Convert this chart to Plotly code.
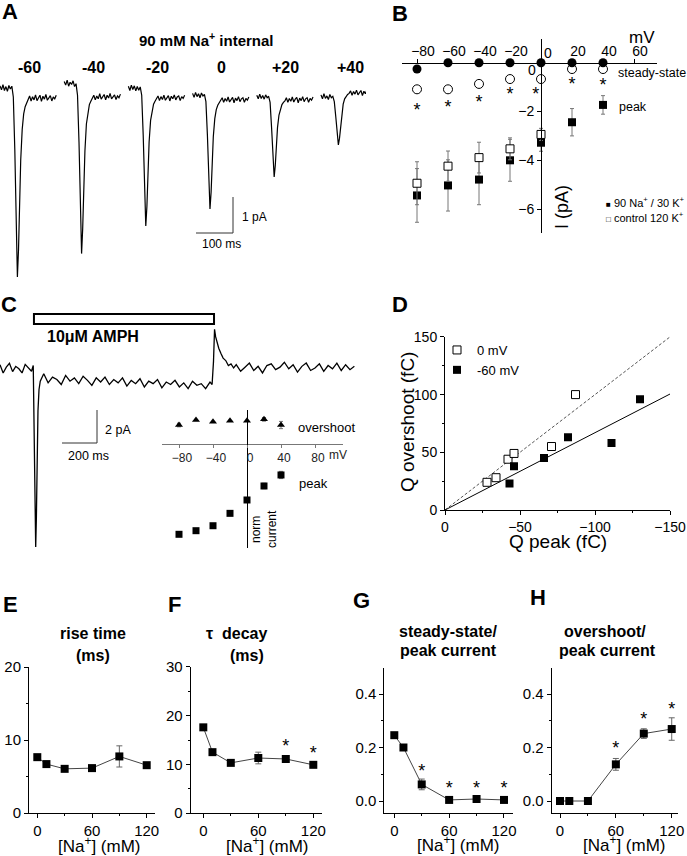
import plotly.graph_objects as go

W, H = 687, 856
FONT = "Liberation Sans, Arial, Helvetica, sans-serif"

# ======================= DATA =======================
# --- A: example currents (pA) vs time (ms), 90 mM Na+ internal ---
A_VOLTS = ["-60", "-40", "-20", "0", "+20", "+40"]
A_T = [0, 4, 8, 12, 16, 20, 24, 28, 32, 36, 40, 44, 47, 50, 53, 56, 60, 64, 68, 72,
       76, 80, 84, 88, 92, 96, 100, 104, 108, 112, 116, 120, 124, 128, 132, 136, 140, 144, 148, 152]
A_I_M60 = [0.06, -0.05, 0.09, -0.07, 0.04, -0.09, 0.07, -0.03, 0.05, -0.25,
           -1.7, -4.1, -5.25, -4.5, -3.1, -2.0, -1.15, -0.72, -0.52, -0.41,
           -0.34, -0.22, -0.36, -0.24, -0.33, -0.19, -0.35, -0.27, -0.2, -0.37,
           -0.23, -0.31, -0.18, -0.34, -0.26, -0.21, -0.36, -0.25, -0.3, -0.2]
A_I_M40 = [0.18, 0.08, 0.22, 0.05, 0.16, 0.1, 0.2, 0.04, 0.12, -0.2,
           -1.5, -3.6, -4.6, -3.9, -2.7, -1.75, -1.0, -0.64, -0.46, -0.37,
           -0.3, -0.2, -0.33, -0.22, -0.3, -0.16, -0.31, -0.24, -0.18, -0.33,
           -0.2, -0.28, -0.15, -0.3, -0.23, -0.19, -0.32, -0.22, -0.27, -0.17]
A_I_M20 = [0.05, -0.07, 0.08, -0.04, 0.06, -0.08, 0.04, -0.06, 0.03, -0.2,
           -1.3, -3.0, -3.83, -3.3, -2.3, -1.5, -0.9, -0.6, -0.45, -0.37,
           -0.31, -0.22, -0.35, -0.24, -0.32, -0.2, -0.34, -0.26, -0.21, -0.36,
           -0.23, -0.3, -0.19, -0.33, -0.25, -0.22, -0.35, -0.24, -0.29, -0.2]
A_I_0 = [-0.15, -0.26, -0.12, -0.24, -0.16, -0.27, -0.14, -0.22, -0.18, -0.38,
         -1.3, -2.7, -3.36, -2.9, -2.05, -1.35, -0.85, -0.6, -0.48, -0.41,
         -0.36, -0.27, -0.4, -0.29, -0.37, -0.25, -0.39, -0.31, -0.26, -0.41,
         -0.28, -0.35, -0.24, -0.38, -0.3, -0.27, -0.4, -0.29, -0.34, -0.25]
A_I_P20 = [-0.2, -0.3, -0.17, -0.29, -0.21, -0.31, -0.19, -0.27, -0.23, -0.4,
           -1.1, -2.0, -2.47, -2.15, -1.6, -1.1, -0.75, -0.56, -0.46, -0.4,
           -0.36, -0.27, -0.4, -0.29, -0.37, -0.25, -0.39, -0.31, -0.26, -0.41,
           -0.28, -0.35, -0.24, -0.38, -0.3, -0.27, -0.4, -0.29, -0.34, -0.25]
A_I_P40 = [-0.19, -0.3, -0.16, -0.29, -0.22, -0.32, -0.18, -0.27, -0.23, -0.38,
           -0.8, -1.3, -1.58, -1.4, -1.05, -0.72, -0.45, -0.3, -0.22, -0.18,
           -0.15, -0.08, -0.2, -0.1, -0.17, -0.06, -0.19, -0.12, -0.07, -0.21,
           -0.09, -0.16, -0.05, -0.18, -0.11, -0.08, -0.2, -0.1, -0.15, -0.06]
A_SCALE_MS = 100
A_SCALE_PA = 1

# --- B: I-V relations ---
B_V = [-80, -60, -40, -20, 0, 20, 40]
B_SS_NA = [-0.26, 0, 0, 0, 0, 0, 0]
B_SS_CTRL = [-1.09, -1.09, -0.87, -0.67, -0.67, -0.26, -0.26]
B_SS_CTRL_ERR = [0.15, 0.12, 0.12, 0.08, 0.08, 0.1, 0.1]
B_PEAK_NA = [-5.44, -5.03, -4.79, -4.0, -3.28, -2.44, -1.73]
B_PEAK_NA_ERR = [1.1, 1.05, 1.03, 0.86, 0.35, 0.56, 0.38]
B_V_CTRL = [-80, -60, -40, -20, 0]
B_PEAK_CTRL = [-4.94, -4.24, -3.89, -3.53, -2.94]
B_PEAK_CTRL_ERR = [0.88, 0.62, 0.63, 0.45, 0.25]
B_STAR_V = [-80, -60, -40, -20, -3.4, 20, 40]
B_STAR_I = [-1.83, -1.70, -1.49, -1.19, -1.16, -0.78, -0.80]
B_XTICKS = [-80, -60, -40, -20, 20, 40, 60]
B_YTICKS = [-6, -4, -2]

# --- C: AMPH response trace (ms, pA) ---
C_T = [0, 18, 36, 54, 72, 90, 108, 126, 144, 162, 180, 190,
       195, 200, 204, 208, 212, 217, 223, 230,
       250, 275, 300, 325, 350, 375, 400, 425, 450, 475, 500, 525, 550, 575, 600, 625,
       650, 675, 700, 725, 750, 775, 800, 825, 850, 875, 900, 925, 950, 975, 1000,
       1025, 1050, 1075, 1100, 1125, 1150, 1175, 1200,
       1212, 1220, 1226, 1232, 1240, 1250, 1262, 1275, 1290, 1305, 1320, 1335,
       1350, 1375, 1400, 1425, 1450, 1475, 1500, 1525, 1550, 1575, 1600, 1625, 1650,
       1675, 1700, 1725, 1750, 1775, 1800, 1825, 1850, 1875, 1900, 1925, 1950, 1975,
       2000, 2025]
C_I = [0.2, -0.3, 0.05, 0.28, -0.22, 0.1, -0.05, -0.3, 0.22, 0.0, -0.2, 0.15,
       -5.0, -10.2, -10.85, -9.0, -5.5, -2.6, -1.3, -0.8,
       -0.35, -0.9, -0.55, -0.7, -1.0, -0.45, -0.8, -0.6, -0.95, -0.5,
       -0.75, -1.05, -0.6, -0.85, -0.55, -1.0, -0.7, -0.9, -0.6, -1.1,
       -0.75, -0.95, -0.65, -1.15, -0.8, -0.95, -0.7, -1.2, -0.85, -1.0,
       -0.75, -1.15, -0.9, -1.25, -0.8, -1.05, -0.95, -1.25, -0.85,
       -1.0, 0.4, 2.35, 1.9, 1.5, 1.2, 0.9, 0.6, 0.45, 0.15, 0.25, 0.0,
       0.2, -0.2, 0.05, 0.3, -0.15, 0.1, -0.3, 0.15, 0.25, -0.1,
       0.05, 0.35, -0.05, 0.2, -0.25, 0.1, 0.3, -0.15, 0.0, 0.25,
       -0.2, 0.15, -0.05, 0.3, -0.15, 0.2, -0.1, 0.1]
AMPH_ON_MS = 194
AMPH_OFF_MS = 1223
C_SCALE_MS = 200
C_SCALE_PA = 2
# inset: normalized currents
C_V = [-80, -60, -40, -20, 0, 20, 40]
C_OVERSHOOT = [0.21, 0.266, 0.247, 0.258, 0.258, 0.273, 0.21]
C_OVERSHOOT_ERR = [0.02, 0, 0, 0, 0, 0.02, 0.04]
C_PEAK = [-1.0, -0.96, -0.905, -0.768, -0.62, -0.465, -0.343]
C_PEAK_ERR = [0, 0, 0, 0, 0, 0.03, 0.04]
C_XTICKS = [-80, -40, 0, 40, 80]

# --- D: charge overshoot vs peak ---
D_PEAK_0 = [-28, -34, -42, -46, -71, -87]
D_OVER_0 = [24, 28, 44, 49, 55, 100]
D_PEAK_60 = [-43, -46, -66, -82, -111, -130]
D_OVER_60 = [23, 38, 45, 63, 58, 96]
D_FIT_X = [0, -150]
D_SLOPE_0 = -1.0
D_SLOPE_60 = -0.67

# --- E-H: dependence on internal Na+ ---
NA_MM = [0, 10, 30, 60, 90, 120]
E_RISE = [7.65, 6.7, 6.05, 6.15, 7.75, 6.55]
E_RISE_ERR = [0.25, 0.2, 0.2, 0.25, 1.45, 0.3]
F_DECAY = [17.6, 12.5, 10.3, 11.3, 11.1, 9.9]
F_DECAY_ERR = [0.3, 0.4, 0.3, 1.2, 0.3, 0.3]
F_STAR_NA = [90, 120]
F_STAR_Y = [14.3, 12.8]
G_SS = [0.246, 0.2, 0.062, 0.004, 0.0075, 0.004]
G_SS_ERR = [0.006, 0.005, 0.02, 0.004, 0.004, 0.004]
G_STAR_NA = [30, 60, 90, 120]
G_STAR_Y = [0.122, 0.06, 0.06, 0.06]
H_OS = [0, 0, 0, 0.137, 0.252, 0.269]
H_OS_ERR = [0, 0, 0, 0.022, 0.018, 0.042]
H_STAR_NA = [60, 90, 120]
H_STAR_Y = [0.209, 0.318, 0.355]


# ======================= LAYOUT HELPERS =======================
def PX(x):
    return x / W


def PY(y):
    return 1 - y / H


def rng(p_start, p_end, a_px, a_val, ppu):
    return [a_val + (p_start - a_px) / ppu, a_val + (p_end - a_px) / ppu]


def axis(dom, r, **kw):
    d = dict(domain=dom, range=r, showgrid=False, zeroline=False, showline=True,
             linecolor="black", linewidth=1, ticks="outside", ticklen=4, tickwidth=1,
             tickcolor="black", tickfont=dict(family=FONT, size=14, color="black"))
    d.update(kw)
    return d


# pixel geometry: x=(left, right, anchor_px, anchor_value, px_per_unit)
#                 y=(bottom, top, anchor_px, anchor_value, px_per_unit)
GEOM = {
    "A": dict(x=(0, 366, 0, 0, 0.37), y=(292, 72, 88, 0, 36)),
    "B": dict(x=(402, 657, 541, 0, 1.55), y=(233, 39, 62.7, 0, 24.4)),
    "C": dict(x=(0, 356, 0, 0, 0.175), y=(560, 326, 368, 0, 16.5)),
    "Ci": dict(x=(162, 343, 247, 0, 0.85), y=(548, 410, 444, 0, 90.3)),
    "D": dict(x=(445, 670.2, 445, 0, -1.5), y=(510, 336.6, 510, 0, 1.154)),
    "E": dict(x=(29, 155, 37.3, 0, 0.9117), y=(813, 667, 813, 0, 7.3)),
    "F": dict(x=(190.7, 321.7, 203.3, 0, 0.9167), y=(813, 667, 813, 0, 4.867)),
    "G": dict(x=(384.3, 512.7, 394.3, 0, 0.914), y=(813, 668, 801, 0, 267.5)),
    "H": dict(x=(551.7, 678, 560, 0, 0.931), y=(813, 668, 801, 0, 267.5)),
}


def xdom(k):
    g = GEOM[k]["x"]
    return [PX(g[0]), PX(g[1])]


def ydom(k):
    g = GEOM[k]["y"]
    return [PY(g[0]), PY(g[1])]


def xrng(k):
    g = GEOM[k]["x"]
    return rng(g[0], g[1], g[2], g[3], g[4])


def yrng(k):
    g = GEOM[k]["y"]
    return rng(g[0], g[1], g[2], g[3], -g[4])


def xval(k, px):
    g = GEOM[k]["x"]
    return g[3] + (px - g[2]) / g[4]


def yval(k, py):
    g = GEOM[k]["y"]
    return g[3] - (py - g[2]) / g[4]


def star_shift(k, size=18):
    # move text anchor down so the asterisk glyph centre sits on the value
    return 0.235 * size / GEOM[k]["y"][4]


fig = go.Figure()

# ---------- A ----------
A_TRACES = [A_I_M60, A_I_M40, A_I_M20, A_I_0, A_I_P20, A_I_P40]
A_STEP_MS = 173.5
for i, tr in enumerate(A_TRACES):
    fig.add_trace(go.Scatter(x=[t + i * A_STEP_MS for t in A_T], y=tr, mode="lines",
                             line=dict(color="black", width=1.2), xaxis="x", yaxis="y",
                             showlegend=False, hoverinfo="skip"))

# ---------- B ----------
bx, by = "x2", "y2"
fig.add_trace(go.Scatter(x=B_V, y=B_PEAK_NA, mode="markers", xaxis=bx, yaxis=by,
                         error_y=dict(array=B_PEAK_NA_ERR, color="#777", thickness=1, width=2),
                         marker=dict(symbol="square", size=8, color="black"), showlegend=False))
fig.add_trace(go.Scatter(x=B_V_CTRL, y=B_PEAK_CTRL, mode="markers", xaxis=bx, yaxis=by,
                         error_y=dict(array=B_PEAK_CTRL_ERR, color="#777", thickness=1, width=2),
                         marker=dict(symbol="square", size=8, color="white",
                                     line=dict(color="black", width=1)), showlegend=False))
fig.add_trace(go.Scatter(x=B_V, y=B_SS_CTRL, mode="markers", xaxis=bx, yaxis=by,
                         error_y=dict(array=B_SS_CTRL_ERR, color="#777", thickness=1, width=2),
                         marker=dict(symbol="circle", size=9, color="white",
                                     line=dict(color="black", width=1)), showlegend=False))
fig.add_trace(go.Scatter(x=B_V, y=B_SS_NA, mode="markers", xaxis=bx, yaxis=by, cliponaxis=False,
                         marker=dict(symbol="circle", size=9, color="black"), showlegend=False))
fig.add_trace(go.Scatter(x=B_STAR_V, y=[v - star_shift("B") for v in B_STAR_I], mode="text",
                         text=["*"] * len(B_STAR_V), xaxis=bx, yaxis=by, cliponaxis=False,
                         textfont=dict(family=FONT, size=18, color="black"), showlegend=False))

# ---------- C ----------
fig.add_trace(go.Scatter(x=C_T, y=C_I, mode="lines", line=dict(color="black", width=1.3),
                         xaxis="x3", yaxis="y3", showlegend=False, hoverinfo="skip"))
fig.add_trace(go.Scatter(x=C_V, y=C_OVERSHOOT, mode="markers", xaxis="x4", yaxis="y4",
                         error_y=dict(array=C_OVERSHOOT_ERR, color="#777", thickness=1, width=2),
                         marker=dict(symbol="triangle-up", size=7, color="black"), showlegend=False))
fig.add_trace(go.Scatter(x=C_V, y=C_PEAK, mode="markers", xaxis="x4", yaxis="y4",
                         error_y=dict(array=C_PEAK_ERR, color="#777", thickness=1, width=2),
                         marker=dict(symbol="square", size=7, color="black"), showlegend=False))

# ---------- D ----------
fig.add_trace(go.Scatter(x=D_FIT_X, y=[D_SLOPE_0 * v for v in D_FIT_X], mode="lines",
                         line=dict(color="#555", width=1, dash="3px,2px"), xaxis="x5", yaxis="y5",
                         showlegend=False, hoverinfo="skip"))
fig.add_trace(go.Scatter(x=D_FIT_X, y=[D_SLOPE_60 * v for v in D_FIT_X], mode="lines",
                         line=dict(color="black", width=1), xaxis="x5", yaxis="y5",
                         showlegend=False, hoverinfo="skip"))
fig.add_trace(go.Scatter(x=D_PEAK_0, y=D_OVER_0, mode="markers", name="0 mV", xaxis="x5", yaxis="y5",
                         marker=dict(symbol="square", size=8, color="white",
                                     line=dict(color="black", width=1))))
fig.add_trace(go.Scatter(x=D_PEAK_60, y=D_OVER_60, mode="markers", name="-60 mV", xaxis="x5", yaxis="y5",
                         marker=dict(symbol="square", size=8, color="black")))

# ---------- E-H ----------
for key, xa, ya, vals, errs in [("E", "x6", "y6", E_RISE, E_RISE_ERR),
                                ("F", "x7", "y7", F_DECAY, F_DECAY_ERR),
                                ("G", "x8", "y8", G_SS, G_SS_ERR),
                                ("H", "x9", "y9", H_OS, H_OS_ERR)]:
    fig.add_trace(go.Scatter(x=NA_MM, y=vals, mode="lines+markers", xaxis=xa, yaxis=ya,
                             cliponaxis=False,
                             line=dict(color="#444", width=1),
                             error_y=dict(array=errs, color="#666", thickness=1, width=3),
                             marker=dict(symbol="square", size=8, color="black"), showlegend=False))
for key, xa, ya, xs, ys in [("F", "x7", "y7", F_STAR_NA, F_STAR_Y),
                            ("G", "x8", "y8", G_STAR_NA, G_STAR_Y),
                            ("H", "x9", "y9", H_STAR_NA, H_STAR_Y)]:
    fig.add_trace(go.Scatter(x=xs, y=[v - star_shift(key) for v in ys], mode="text",
                             text=["*"] * len(xs), xaxis=xa, yaxis=ya, cliponaxis=False,
                             textfont=dict(family=FONT, size=18, color="black"), showlegend=False))

# ======================= AXES =======================
hidden = dict(visible=False, showgrid=False, zeroline=False)
layout_axes = dict(
    xaxis=dict(domain=xdom("A"), range=xrng("A"), anchor="y", **hidden),
    yaxis=dict(domain=ydom("A"), range=yrng("A"), anchor="x", **hidden),
    xaxis2=axis(xdom("B"), xrng("B"), anchor="free", position=PY(62.7), side="top",
                tickvals=B_XTICKS, ticklen=4, ticklabelshift=6, ticklabelstandoff=-3),
    yaxis2=axis(ydom("B"), yrng("B"), anchor="free", position=PX(541), side="left",
                tickvals=B_YTICKS, ticklen=4),
    xaxis3=dict(domain=xdom("C"), range=xrng("C"), anchor="y3", **hidden),
    yaxis3=dict(domain=ydom("C"), range=yrng("C"), anchor="x3", **hidden),
    xaxis4=axis(xdom("Ci"), xrng("Ci"), anchor="free", position=PY(444), side="bottom",
                tickvals=C_XTICKS, ticklen=3, linecolor="#777", tickcolor="#777",
                ticklabelshift=3, tickfont=dict(family=FONT, size=12, color="#222")),
    yaxis4=axis(ydom("Ci"), yrng("Ci"), anchor="free", position=PX(247), ticks="",
                showticklabels=False),
    xaxis5=axis(xdom("D"), xrng("D"), anchor="y5", tickvals=[0, -50, -100, -150],
                minor=dict(tickvals=[-25, -75, -125], ticks="outside", ticklen=2, tickcolor="black")),
    yaxis5=axis(ydom("D"), yrng("D"), anchor="x5", tickvals=[0, 50, 100, 150],
                minor=dict(tickvals=[25, 75, 125], ticks="outside", ticklen=2, tickcolor="black")),
)
efgh = [("E", 6, [0, 10, 20], None, [5, 15]),
        ("F", 7, [0, 10, 20, 30], None, [5, 15, 25]),
        ("G", 8, [0, 0.2, 0.4], ["0.0", "0.2", "0.4"], [0.1, 0.3]),
        ("H", 9, [0, 0.2, 0.4], ["0.0", "0.2", "0.4"], [0.1, 0.3])]
for key, n, yt, ytt, ymin in efgh:
    layout_axes["xaxis%d" % n] = axis(xdom(key), xrng(key), anchor="y%d" % n,
                                      tickvals=[0, 60, 120],
                                      minor=dict(tickvals=[30, 90], ticks="outside", ticklen=2,
                                                 tickcolor="black"),
                                      tickfont=dict(family=FONT, size=15, color="black"))
    yd = axis(ydom(key), yrng(key), anchor="x%d" % n, tickvals=yt,
              minor=dict(tickvals=ymin, ticks="outside", ticklen=2, tickcolor="black"),
              tickfont=dict(family=FONT, size=15, color="black"))
    if ytt:
        yd["ticktext"] = ytt
    layout_axes["yaxis%d" % n] = yd

# ======================= SHAPES =======================
shapes = []
# A scale bar (100 ms, 1 pA)
a_t0, a_i0 = xval("A", 233), yval("A", 233)
shapes.append(dict(type="line", xref="x", yref="y", x0=a_t0, x1=a_t0, y0=a_i0, y1=a_i0 + A_SCALE_PA,
                   line=dict(color="#333", width=1)))
shapes.append(dict(type="line", xref="x", yref="y", x0=a_t0 - A_SCALE_MS, x1=a_t0, y0=a_i0, y1=a_i0,
                   line=dict(color="#333", width=1)))
# C scale bar (200 ms, 2 pA)
c_t0, c_i0 = xval("C", 97), yval("C", 443)
shapes.append(dict(type="line", xref="x3", yref="y3", x0=c_t0, x1=c_t0, y0=c_i0, y1=c_i0 + C_SCALE_PA,
                   line=dict(color="#333", width=1)))
shapes.append(dict(type="line", xref="x3", yref="y3", x0=c_t0 - C_SCALE_MS, x1=c_t0, y0=c_i0, y1=c_i0,
                   line=dict(color="#333", width=1)))
# AMPH application bar
shapes.append(dict(type="rect", xref="x3", yref="paper", x0=AMPH_ON_MS, x1=AMPH_OFF_MS,
                   y0=PY(324), y1=PY(314), line=dict(color="black", width=2), fillcolor="white"))

# ======================= ANNOTATIONS =======================
anns = []


def ann(text, x, y, size, xanchor="center", yanchor="middle", angle=0, color="black"):
    anns.append(dict(text=text, x=PX(x), y=PY(y), xref="paper", yref="paper", showarrow=False,
                     xanchor=xanchor, yanchor=yanchor, textangle=angle,
                     font=dict(family=FONT, size=size, color=color)))


for letter, x, y in [("A", 10, 12), ("B", 400, 14), ("C", 9, 304), ("D", 400, 304),
                     ("E", 10, 604), ("F", 174, 604), ("G", 361, 600), ("H", 538, 597)]:
    ann("<b>%s</b>" % letter, x, y, 22)

# A
ann("<b>90 mM Na<sup>+</sup> internal</b>", 206, 39, 15)
for i, lab in enumerate(A_VOLTS):
    ann("<b>%s</b>" % lab, 29 + i * 64.2, 67, 16)
ann("1 pA", 240, 217, 12, xanchor="left")
ann("100 ms", 222, 244, 12)

# B
ann("0", 548, 53, 14)
ann("0", 532, 70, 14)
ann("mV", 642, 37, 17)
ann("I (pA)", 562, 207, 18, angle=-90)
ann("steady-state", 616, 73, 12.5, xanchor="left")
ann("peak", 617, 107, 12.5, xanchor="left")
GLYPH = "<span style='font-size:8px'>%s</span> "
ann(GLYPH % "\u25A0" + "90 Na<sup>+</sup> / 30 K<sup>+</sup>", 604, 202, 11, xanchor="left")
ann(GLYPH % "\u25A1" + "control 120 K<sup>+</sup>", 604, 217, 11, xanchor="left")

# C
ann("<b>10\u03bcM AMPH</b>", 93, 336, 16)
ann("2 pA", 103, 430, 12.5, xanchor="left")
ann("200 ms", 88, 456, 12.5)
ann("overshoot", 296, 427, 13, xanchor="left")
ann("peak", 297, 483, 13, xanchor="left")
ann("norm<br>current", 264, 529, 12, angle=-90)
ann("mV", 327, 455, 12, xanchor="left", color="#222")

# D
ann("Q overshoot (fC)", 407, 422, 19, angle=-90)
ann("Q peak (fC)", 558, 541, 19)

# E-H titles
ann("<b>rise time</b>", 93, 633, 16)
ann("<b>(ms)</b>", 93, 655, 16)
ann("<b>\u03c4  decay</b>", 237, 633, 16)
ann("<b>(ms)</b>", 247, 655, 16)
ann("<b>steady-state/</b>", 448, 631, 16)
ann("<b>peak current</b>", 448, 650, 16)
ann("<b>overshoot/</b>", 605, 631, 16)
ann("<b>peak current</b>", 607, 650, 16)
for x, y in [(99, 845), (267, 845), (458, 844), (624, 844)]:
    ann("[Na<sup>+</sup>] (mM)", x, y, 17)

fig.update_layout(
    width=W, height=H, margin=dict(l=0, r=0, t=0, b=0, pad=0, autoexpand=False),
    paper_bgcolor="white", plot_bgcolor="rgba(0,0,0,0)",
    font=dict(family=FONT, color="black"),
    showlegend=True,
    legend=dict(x=PX(437), y=PY(335), xanchor="left", yanchor="top",
                font=dict(family=FONT, size=13, color="black"),
                bgcolor="rgba(0,0,0,0)", tracegroupgap=0, itemwidth=30),
    shapes=shapes, annotations=anns,
    **layout_axes,
)

fig.write_html("out.html", config={"displayModeBar": False},
               post_script="document.body.style.margin='0px';document.body.style.overflow='hidden';")
